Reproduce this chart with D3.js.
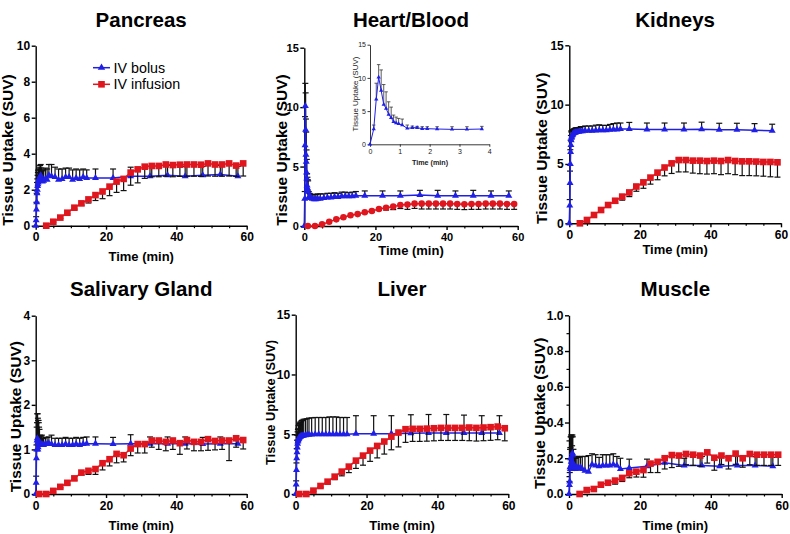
<!DOCTYPE html>
<html><head><meta charset="utf-8">
<script src="https://cdn.jsdelivr.net/npm/d3@7"></script>
<style>
body{margin:0;background:#fff}
svg{display:block}
text{font-family:"Liberation Sans",Arial,Helvetica,sans-serif}
</style>
</head><body>
<svg id="c" width="790" height="534"></svg>
<script>
// ---------- DATA ----------
const bolusTime = [0, 0.125, 0.21, 0.29, 0.375, 0.46, 0.54, 0.625, 0.71, 0.79, 0.875, 0.96, 1.08, 1.25, 1.42, 1.58, 1.75, 1.92, 2.25, 2.75, 3.25, 3.75, 4.5, 5.5, 6.5, 7.5, 8.5, 9.5, 10.5, 11.5, 12.5, 13.5, 14.5, 17, 22, 27, 32.5, 37.5, 42.5, 47.5, 52.5, 57.5];
const infusionTime3 = [3, 5, 7, 9, 11, 13, 15, 17, 19, 21, 23, 25, 27, 29, 31, 33, 35, 37, 39, 41, 43, 45, 47, 49, 51, 53, 55, 57, 59];
const infusionTime1 = [1, 3, 5, 7, 9, 11, 13, 15, 17, 19, 21, 23, 25, 27, 29, 31, 33, 35, 37, 39, 41, 43, 45, 47, 49, 51, 53, 55, 57, 59];
const xTickLabels = [0, 20, 40, 60];
const insetTime = [0, 0.125, 0.21, 0.29, 0.375, 0.46, 0.54, 0.625, 0.71, 0.79, 0.875, 0.96, 1.08, 1.25, 1.42, 1.58, 1.75, 1.92, 2.25, 2.75, 3.25, 3.75];
const insetXTicks = [0, 1, 2, 3, 4];

const titles = ["Pancreas", "Heart/Blood", "Kidneys", "Salivary Gland", "Liver", "Muscle"];
const seriesNames = ["IV bolus", "IV infusion"];
const yLabel = "Tissue Uptake (SUV)";
const xLabel = "Time (min)";

const pancreasBolus = [0, 0.3, 0.9, 1.3, 1.8, 2.0, 2.2, 2.3, 2.4, 2.5, 2.55, 2.6, 2.65, 2.75, 2.8, 2.6, 2.5, 2.45, 2.5, 2.6, 2.55, 2.8, 2.75, 2.7, 2.55, 2.6, 2.7, 2.7, 2.55, 2.65, 2.6, 2.7, 2.65, 2.65, 2.65, 2.75, 2.75, 2.8, 2.75, 2.8, 2.85, 2.75];
const pancreasBolusSD = [0, 0.2, 0.4, 0.5, 0.6, 0.6, 0.6, 0.65, 0.65, 0.6, 0.6, 0.55, 0.6, 0.6, 0.6, 0.6, 0.6, 0.6, 0.6, 0.6, 0.6, 0.6, 0.65, 0.55, 0.6, 0.55, 0.5, 0.5, 0.55, 0.5, 0.5, 0.45, 0.45, 0.5, 0.5, 0.5, 0.55, 0.55, 0.55, 0.5, 0.5, 0.55];
const pancreasInf = [0, 0.22, 0.45, 0.72, 1.0, 1.24, 1.46, 1.7, 1.9, 2.17, 2.45, 2.6, 2.95, 3.13, 3.28, 3.32, 3.32, 3.4, 3.37, 3.39, 3.4, 3.4, 3.39, 3.46, 3.4, 3.4, 3.46, 3.34, 3.46];
const pancreasInfSD = [0, 0.02, 0.04, 0.06, 0.08, 0.1, 0.2, 0.3, 0.4, 0.5, 0.6, 0.65, 0.7, 0.75, 0.65, 0.6, 0.6, 0.65, 0.65, 0.65, 0.65, 0.65, 0.65, 0.7, 0.65, 0.65, 0.7, 0.6, 0.7];

const heartBolus = [0, 2.3, 6.8, 10.1, 8.1, 6.0, 5.4, 4.5, 4.0, 3.4, 3.2, 3.1, 2.9, 2.4, 2.5, 2.5, 2.35, 2.35, 2.3, 2.25, 2.25, 2.3, 2.3, 2.35, 2.4, 2.4, 2.45, 2.45, 2.5, 2.5, 2.5, 2.5, 2.55, 2.55, 2.55, 2.55, 2.6, 2.55, 2.55, 2.55, 2.55, 2.55];
const heartBolusSD = [0, 0.6, 2.4, 1.9, 3.1, 3.0, 2.5, 1.9, 1.6, 1.0, 0.9, 0.8, 0.9, 0.5, 0.25, 0.2, 0.3, 0.3, 0.35, 0.4, 0.4, 0.4, 0.4, 0.35, 0.35, 0.35, 0.35, 0.3, 0.35, 0.35, 0.3, 0.35, 0.35, 0.4, 0.4, 0.4, 0.4, 0.45, 0.4, 0.45, 0.4, 0.4];
const heartInf = [0, 0, 0.14, 0.36, 0.56, 0.73, 0.9, 1.0, 1.15, 1.26, 1.43, 1.54, 1.63, 1.77, 1.8, 1.88, 1.88, 1.88, 1.88, 1.88, 1.88, 1.85, 1.83, 1.85, 1.85, 1.88, 1.88, 1.88, 1.85, 1.85];
const heartInfSD = [0, 0, 0, 0, 0, 0, 0, 0.05, 0.05, 0.08, 0.1, 0.2, 0.25, 0.3, 0.4, 0.4, 0.45, 0.45, 0.45, 0.45, 0.45, 0.45, 0.45, 0.45, 0.45, 0.45, 0.45, 0.45, 0.45, 0.45];

const kidneyBolus = [0, 1.5, 3.4, 5.0, 6.0, 6.6, 7.0, 7.2, 7.3, 7.4, 7.45, 7.5, 7.55, 7.6, 7.6, 7.65, 7.65, 7.7, 7.7, 7.72, 7.75, 7.75, 7.8, 7.8, 7.8, 7.82, 7.85, 7.85, 7.85, 7.88, 7.9, 7.9, 7.95, 7.95, 7.9, 7.9, 7.9, 7.92, 7.88, 7.88, 7.85, 7.8];
const kidneyBolusSD = [0, 0.5, 1.0, 1.2, 1.0, 0.8, 0.7, 0.6, 0.5, 0.4, 0.4, 0.35, 0.35, 0.35, 0.35, 0.35, 0.35, 0.35, 0.35, 0.35, 0.4, 0.4, 0.4, 0.4, 0.4, 0.45, 0.45, 0.4, 0.4, 0.45, 0.5, 0.55, 0.5, 0.55, 0.55, 0.55, 0.55, 0.6, 0.55, 0.55, 0.55, 0.55];
const kidneyInf = [0, 0.28, 0.7, 1.12, 1.54, 1.9, 2.25, 2.6, 3.1, 3.45, 3.85, 4.27, 4.7, 5.05, 5.33, 5.33, 5.28, 5.28, 5.25, 5.28, 5.25, 5.33, 5.25, 5.22, 5.22, 5.2, 5.17, 5.17, 5.14];
const kidneyInfSD = [0, 0.03, 0.06, 0.1, 0.15, 0.2, 0.3, 0.35, 0.4, 0.5, 0.55, 0.6, 0.7, 0.85, 1.0, 1.0, 1.05, 1.1, 1.1, 1.1, 1.15, 1.15, 1.15, 1.2, 1.2, 1.2, 1.2, 1.25, 1.25];

const salivaryBolus = [0, 0.25, 0.8, 1.0, 1.2, 1.25, 1.15, 1.0, 1.05, 1.2, 1.1, 1.1, 1.15, 1.12, 1.1, 1.1, 1.12, 1.1, 1.1, 1.12, 1.12, 1.13, 1.12, 1.1, 1.1, 1.1, 1.12, 1.1, 1.1, 1.12, 1.1, 1.12, 1.13, 1.13, 1.12, 1.13, 1.13, 1.13, 1.13, 1.12, 1.13, 1.13];
const salivaryBolusSD = [0, 0.15, 0.3, 0.5, 0.4, 0.55, 0.65, 0.7, 0.6, 0.45, 0.5, 0.4, 0.3, 0.2, 0.2, 0.2, 0.2, 0.15, 0.15, 0.15, 0.15, 0.15, 0.2, 0.15, 0.15, 0.15, 0.15, 0.15, 0.15, 0.15, 0.15, 0.15, 0.15, 0.15, 0.15, 0.2, 0.15, 0.15, 0.15, 0.15, 0.15, 0.1];
const salivaryInf = [0, 0, 0.07, 0.16, 0.25, 0.35, 0.48, 0.52, 0.56, 0.69, 0.78, 0.9, 0.87, 1.02, 1.12, 1.12, 1.2, 1.2, 1.17, 1.2, 1.14, 1.21, 1.17, 1.17, 1.23, 1.19, 1.2, 1.2, 1.25, 1.21];
const salivaryInfSD = [0, 0, 0, 0.02, 0.03, 0.04, 0.05, 0.08, 0.12, 0.15, 0.15, 0.2, 0.15, 0.16, 0.2, 0.2, 0.15, 0.2, 0.2, 0.2, 0.25, 0.2, 0.2, 0.2, 0.25, 0.2, 0.2, 0.45, 0.2, 0.2];

const liverBolus = [0, 0.8, 2.0, 3.0, 3.5, 3.9, 4.2, 4.4, 4.5, 4.6, 4.65, 4.7, 4.75, 4.8, 4.82, 4.85, 4.85, 4.88, 4.9, 4.92, 4.95, 4.95, 4.97, 5.0, 5.0, 5.0, 5.0, 5.0, 5.0, 5.0, 5.0, 5.0, 5.0, 5.05, 5.05, 5.05, 5.08, 5.1, 5.1, 5.1, 5.1, 5.1];
const liverBolusSD = [0, 0.3, 0.6, 0.8, 1.0, 1.0, 1.0, 1.0, 1.0, 1.1, 1.1, 1.1, 1.15, 1.2, 1.2, 1.25, 1.3, 1.3, 1.35, 1.35, 1.35, 1.4, 1.4, 1.4, 1.4, 1.4, 1.4, 1.45, 1.45, 1.45, 1.4, 1.4, 1.4, 1.5, 1.5, 1.5, 1.55, 1.55, 1.55, 1.5, 1.45, 1.45];
const liverInf = [0, 0, 0.28, 0.67, 1.03, 1.45, 1.87, 2.29, 2.79, 3.21, 3.63, 4.02, 4.39, 4.8, 5.14, 5.42, 5.45, 5.45, 5.47, 5.5, 5.53, 5.53, 5.53, 5.53, 5.56, 5.53, 5.56, 5.59, 5.64, 5.5];
const liverInfSD = [0, 0, 0.05, 0.1, 0.15, 0.25, 0.35, 0.5, 0.65, 0.8, 0.9, 1.0, 1.05, 1.1, 1.2, 1.1, 1.05, 1.05, 1.05, 1.05, 1.05, 1.05, 1.05, 1.05, 1.1, 1.1, 1.1, 1.1, 1.1, 1.05];

const muscleBolus = [0, 0.05, 0.07, 0.15, 0.14, 0.2, 0.16, 0.18, 0.16, 0.14, 0.15, 0.23, 0.22, 0.17, 0.15, 0.14, 0.15, 0.14, 0.15, 0.145, 0.15, 0.14, 0.13, 0.125, 0.165, 0.16, 0.155, 0.16, 0.16, 0.16, 0.165, 0.16, 0.14, 0.145, 0.155, 0.175, 0.16, 0.16, 0.155, 0.16, 0.16, 0.155];
const muscleBolusSD = [0, 0.02, 0.05, 0.1, 0.12, 0.12, 0.16, 0.15, 0.17, 0.18, 0.12, 0.1, 0.1, 0.08, 0.06, 0.06, 0.06, 0.06, 0.06, 0.06, 0.06, 0.07, 0.08, 0.09, 0.06, 0.06, 0.05, 0.06, 0.06, 0.06, 0.06, 0.05, 0.06, 0.05, 0.04, 0.03, 0.04, 0.05, 0.05, 0.05, 0.05, 0.05];
const muscleInf = [0, 0.022, 0.028, 0.052, 0.063, 0.075, 0.09, 0.116, 0.125, 0.134, 0.17, 0.18, 0.2, 0.218, 0.215, 0.224, 0.22, 0.215, 0.233, 0.203, 0.215, 0.2, 0.226, 0.2, 0.224, 0.22, 0.22, 0.22, 0.22];
const muscleInfSD = [0, 0.005, 0.01, 0.01, 0.015, 0.02, 0.02, 0.025, 0.03, 0.04, 0.05, 0.06, 0.06, 0.07, 0.06, 0.06, 0.06, 0.06, 0.06, 0.07, 0.05, 0.06, 0.06, 0.05, 0.06, 0.06, 0.06, 0.06, 0.06];

const yTicksPancreas = [0, 2, 4, 6, 8, 10];
const yTicks15 = [0, 5, 10, 15];
const yTicksSalivary = [0, 1, 2, 3, 4];
const yTicksMuscle = [0, 0.2, 0.4, 0.6, 0.8, 1.0];

// ---------- PANELS (data) ----------
const panels = [
  {title: titles[0], bolus: pancreasBolus, bolusSD: pancreasBolusSD, infT: infusionTime3, inf: pancreasInf, infSD: pancreasInfSD, yMax: 10, yTicks: yTicksPancreas, fmt: "d", infMarker: "square"},
  {title: titles[1], bolus: heartBolus, bolusSD: heartBolusSD, infT: infusionTime1, inf: heartInf, infSD: heartInfSD, yMax: 15, yTicks: yTicks15, fmt: "d", infMarker: "circle"},
  {title: titles[2], bolus: kidneyBolus, bolusSD: kidneyBolusSD, infT: infusionTime3, inf: kidneyInf, infSD: kidneyInfSD, yMax: 15, yTicks: yTicks15, fmt: "d", infMarker: "square"},
  {title: titles[3], bolus: salivaryBolus, bolusSD: salivaryBolusSD, infT: infusionTime1, inf: salivaryInf, infSD: salivaryInfSD, yMax: 4, yTicks: yTicksSalivary, fmt: "d", infMarker: "square"},
  {title: titles[4], bolus: liverBolus, bolusSD: liverBolusSD, infT: infusionTime1, inf: liverInf, infSD: liverInfSD, yMax: 15, yTicks: yTicks15, fmt: "d", infMarker: "square"},
  {title: titles[5], bolus: muscleBolus, bolusSD: muscleBolusSD, infT: infusionTime3, inf: muscleInf, infSD: muscleInfSD, yMax: 1.0, yTicks: yTicksMuscle, fmt: ".1f", infMarker: "square"}
];

// ---------- LAYOUT (positions/styles) ----------
const layout = [
  {x0: 35.7, x1: 246.7, yb: 225.7, yt: 45.7, titleY: 27, ylx: 13.3, yly: 150, ylfs: 15.5, xly: 261, tfs: 12},
  {x0: 304.3, x1: 517.7, yb: 226, yt: 47.7, titleY: 27, ylx: 286.7, yly: 150, ylfs: 15.5, xly: 255, tfs: 11},
  {x0: 569.3, x1: 781, yb: 223.3, yt: 45.3, titleY: 27, ylx: 547.3, yly: 148.3, ylfs: 15.5, xly: 254, tfs: 12},
  {x0: 35.7, x1: 246.7, yb: 494, yt: 315.7, titleY: 296, ylx: 20.7, yly: 416.7, ylfs: 15.5, xly: 530, tfs: 12},
  {x0: 295.7, x1: 508.3, yb: 494, yt: 314.7, titleY: 296, ylx: 275, yly: 402.5, ylfs: 12.8, xly: 530, tfs: 12},
  {x0: 569, x1: 781.7, yb: 494, yt: 315.3, titleY: 296, ylx: 545, yly: 413.3, ylfs: 15.5, xly: 530, tfs: 12}
];
const BLUE = "#1f1fe6", RED = "#e0161e", ERR = "#111";
const svg = d3.select("#c");

function styleAxis(sel, fs, weight, color, width) {
  sel.select(".domain").attr("stroke", color).attr("stroke-width", width);
  sel.selectAll(".tick line").attr("stroke", color).attr("stroke-width", width);
  sel.selectAll(".tick text").attr("fill", color).attr("font-size", fs).attr("font-weight", weight)
     .attr("font-family", "Liberation Sans, Arial, sans-serif");
}

function markerPath(kind, size) {
  const t = kind === "triangle" ? d3.symbolTriangle : kind === "circle" ? d3.symbolCircle : d3.symbolSquare;
  return d3.symbol().type(t).size(size)();
}

function drawSeries(g, xs, ys, sds, dir, x, y, color, marker, msize, opts) {
  const pts = xs.map((t, k) => ({t, v: ys[k], s: sds[k]}));
  const eg = g.append("g");
  const withErr = pts.filter(d => d.s > 0);
  eg.selectAll("line.v").data(withErr).join("line")
    .attr("x1", d => x(d.t)).attr("x2", d => x(d.t))
    .attr("y1", d => y(d.v)).attr("y2", d => y(d.v + dir * d.s))
    .attr("stroke", opts.errColor).attr("stroke-width", opts.errW);
  eg.selectAll("line.c").data(withErr).join("line")
    .attr("x1", d => x(d.t) - opts.cap / 2).attr("x2", d => x(d.t) + opts.cap / 2)
    .attr("y1", d => y(d.v + dir * d.s)).attr("y2", d => y(d.v + dir * d.s))
    .attr("stroke", opts.errColor).attr("stroke-width", opts.errW);
  g.append("path").datum(pts)
    .attr("d", d3.line().x(d => x(d.t)).y(d => y(d.v)))
    .attr("fill", "none").attr("stroke", color).attr("stroke-width", opts.lineW);
  g.append("g").selectAll("path").data(pts).join("path")
    .attr("d", markerPath(marker, msize))
    .attr("transform", d => `translate(${x(d.t)},${y(d.v)})`)
    .attr("fill", color);
}

panels.forEach((p, i) => {
  const L = layout[i];
  const x = d3.scaleLinear().domain([0, 60]).range([L.x0, L.x1]);
  const y = d3.scaleLinear().domain([0, p.yMax]).range([L.yb, L.yt]);
  const g = svg.append("g");

  g.append("text").attr("x", (L.x0 + L.x1) / 2).attr("y", L.titleY)
    .attr("text-anchor", "middle").attr("font-size", 20.5).attr("font-weight", "bold").text(p.title);

  const minorX = g.append("g").attr("transform", `translate(0,${L.yb})`)
    .call(d3.axisBottom(x).tickValues([5, 10, 15, 25, 30, 35, 45, 50, 55]).tickSize(2.5).tickFormat(""));
  minorX.select(".domain").remove();
  minorX.selectAll(".tick line").attr("stroke", "#000").attr("stroke-width", 1.2);

  if (i === 5) {
    const minorY = g.append("g").attr("transform", `translate(${L.x0},0)`)
      .call(d3.axisLeft(y).tickValues([0.1, 0.3, 0.5, 0.7, 0.9]).tickSize(2.5).tickFormat(""));
    minorY.select(".domain").remove();
    minorY.selectAll(".tick line").attr("stroke", "#000").attr("stroke-width", 1.2);
  }

  const xa = g.append("g").attr("transform", `translate(0,${L.yb})`)
    .call(d3.axisBottom(x).tickValues(xTickLabels).tickSize(4).tickSizeOuter(0).tickPadding(3).tickFormat(d3.format("d")));
  styleAxis(xa, L.tfs, "bold", "#000", 1.4);
  const ya = g.append("g").attr("transform", `translate(${L.x0},0)`)
    .call(d3.axisLeft(y).tickValues(p.yTicks).tickSize(4).tickSizeOuter(0).tickPadding(1.5).tickFormat(d3.format(p.fmt)));
  styleAxis(ya, L.tfs, "bold", "#000", 1.4);

  g.append("text").attr("transform", `translate(${L.ylx},${L.yly}) rotate(-90)`)
    .attr("text-anchor", "middle").attr("font-size", L.ylfs).attr("font-weight", "bold").text(yLabel);
  g.append("text").attr("x", (L.x0 + L.x1) / 2).attr("y", L.xly)
    .attr("text-anchor", "middle").attr("font-size", 13).attr("font-weight", "bold").text(xLabel);

  const opts = {errColor: ERR, errW: 1.2, cap: 6, lineW: 1.5};
  drawSeries(g, bolusTime, p.bolus, p.bolusSD, 1, x, y, BLUE, "triangle", 21, opts);
  drawSeries(g, p.infT, p.inf, p.infSD, -1, x, y, RED, p.infMarker, p.infMarker === "circle" ? 34 : 44, opts);

  if (i === 0) {
    const lg = g.append("g");
    const items = [{name: seriesNames[0], color: BLUE, m: "triangle", s: 24, yy: 67.7},
                   {name: seriesNames[1], color: RED, m: "square", s: 44, yy: 84.3}];
    items.forEach(it => {
      lg.append("line").attr("x1", 93).attr("x2", 110).attr("y1", it.yy).attr("y2", it.yy)
        .attr("stroke", it.color).attr("stroke-width", 1.5);
      lg.append("path").attr("d", markerPath(it.m, it.s)).attr("transform", `translate(101.5,${it.yy})`).attr("fill", it.color);
      lg.append("text").attr("x", 113.5).attr("y", it.yy + 5).attr("font-size", 14.3).text(it.name);
    });
  }

  if (i === 1) {
    const ix = d3.scaleLinear().domain([0, 4]).range([370, 489.3]);
    const iy = d3.scaleLinear().domain([0, 15]).range([144.3, 44.7]);
    const ig = svg.append("g");
    const iax = ig.append("g").attr("transform", "translate(0,144.3)")
      .call(d3.axisBottom(ix).tickValues(insetXTicks).tickSize(2.5).tickSizeOuter(0).tickPadding(2).tickFormat(d3.format("d")));
    styleAxis(iax, 7, "normal", "#222", 0.9);
    const iay = ig.append("g").attr("transform", "translate(370,0)")
      .call(d3.axisLeft(iy).tickValues(yTicks15).tickSize(2.5).tickSizeOuter(0).tickPadding(1.5).tickFormat(d3.format("d")));
    styleAxis(iay, 7, "normal", "#222", 0.9);
    ig.append("text").attr("transform", "translate(358,94) rotate(-90)").attr("text-anchor", "middle")
      .attr("font-size", 8).attr("fill", "#222").text(yLabel);
    ig.append("text").attr("x", 430).attr("y", 164.5).attr("text-anchor", "middle")
      .attr("font-size", 7.2).attr("font-weight", "bold").attr("fill", "#222").text(xLabel);
    const n = insetTime.length;
    drawSeries(ig, insetTime, heartBolus.slice(0, n), heartBolusSD.slice(0, n), 1, ix, iy, BLUE, "triangle", 8,
      {errColor: "#333", errW: 0.8, cap: 3.5, lineW: 1});
  }
});
</script>
</body></html>
